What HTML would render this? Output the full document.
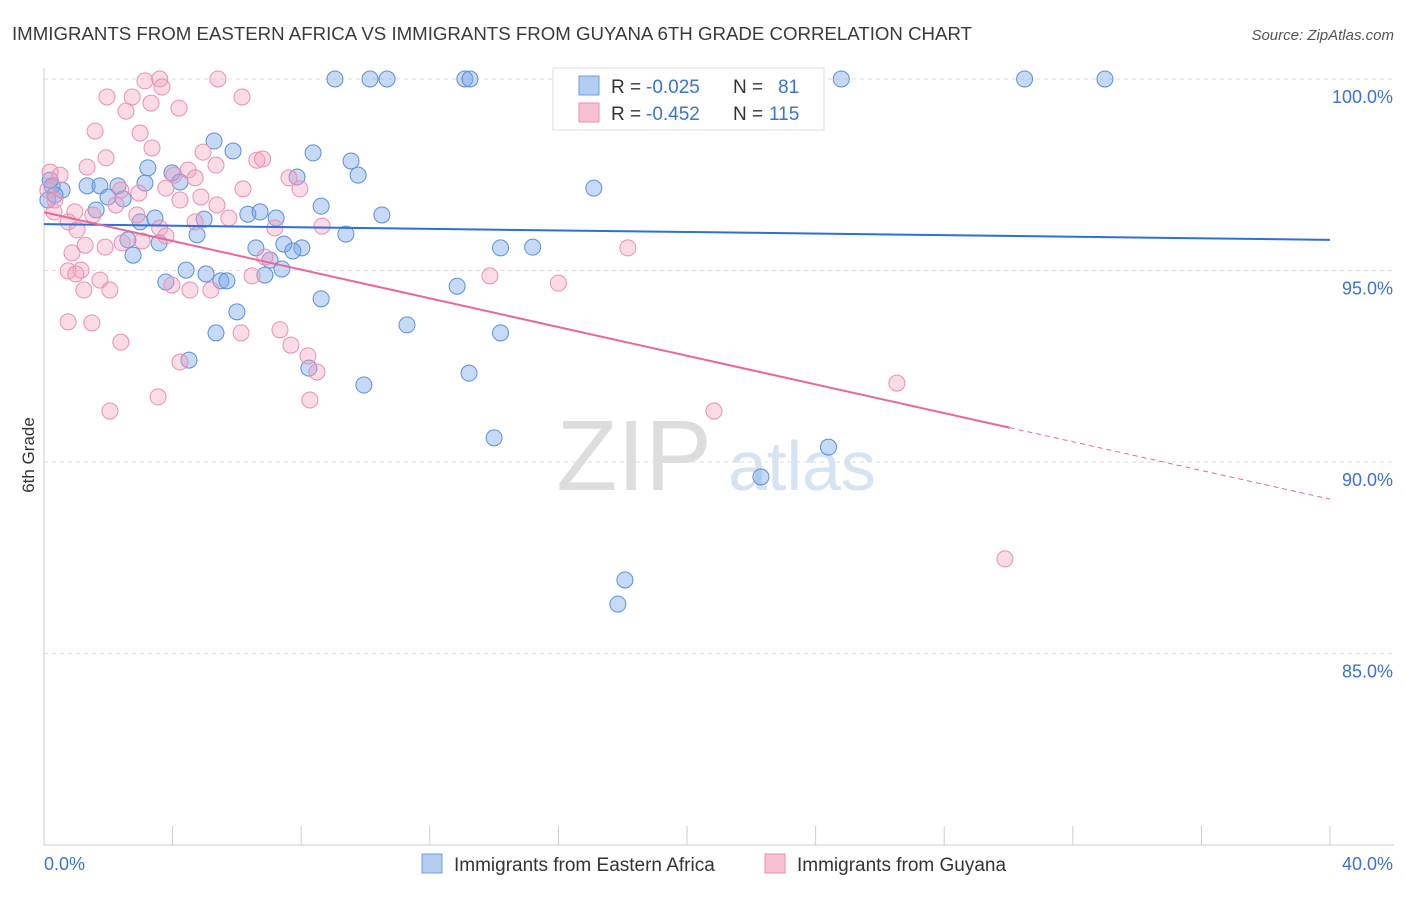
<!DOCTYPE html>
<html><head><meta charset="utf-8"><style>
body{margin:0;background:#fff;font-family:"Liberation Sans",sans-serif;}
svg text{font-family:"Liberation Sans",sans-serif;}
</style></head><body>
<svg id="chart" width="1406" height="892" xmlns="http://www.w3.org/2000/svg">
<text x="12" y="40" font-size="18.5" fill="#3a3a3a" textLength="960" lengthAdjust="spacingAndGlyphs">IMMIGRANTS FROM EASTERN AFRICA VS IMMIGRANTS FROM GUYANA 6TH GRADE CORRELATION CHART</text>
<text x="1394" y="40" font-size="15" fill="#555" text-anchor="end" font-style="italic">Source: ZipAtlas.com</text>
<text x="34" y="455" font-size="17" fill="#333" text-anchor="middle" transform="rotate(-90 34 455)">6th Grade</text>
<g>
<text x="634" y="490" font-size="100" fill="#ddd" text-anchor="middle" font-family="Liberation Serif">ZIP</text>
<text x="802" y="490" font-size="70" fill="#d5e3f3" text-anchor="middle">atlas</text>
</g>
<g id="grid"></g><g id="pts"></g><g id="lines"></g>
<g>
<rect x="553" y="68" width="271" height="62" fill="#fff" stroke="#ddd"/>
<rect x="579" y="76" width="20" height="19" fill="#b3cdf0" stroke="#6c9ee0"/>
<rect x="579" y="103" width="20" height="19" fill="#f8c1d2" stroke="#ec8fb0"/>
<text x="611" y="93" font-size="19" fill="#333">R =</text>
<text x="646" y="93" font-size="19" fill="#3b73d1">-0.025</text>
<text x="733" y="93" font-size="19" fill="#333">N =</text>
<text x="778" y="93" font-size="19" fill="#3b73d1">81</text>
<text x="611" y="120" font-size="19" fill="#333">R =</text>
<text x="646" y="120" font-size="19" fill="#3b73d1">-0.452</text>
<text x="733" y="120" font-size="19" fill="#333">N =</text>
<text x="769" y="120" font-size="19" fill="#3b73d1">115</text>
</g>
<g>
<rect x="422" y="854" width="20" height="19" fill="#b3cdf0" stroke="#6c9ee0"/>
<text x="454" y="871" font-size="19" fill="#333">Immigrants from Eastern Africa</text>
<rect x="765" y="854" width="20" height="19" fill="#f8c1d2" stroke="#ec8fb0"/>
<text x="797" y="871" font-size="19" fill="#333">Immigrants from Guyana</text>
</g>
</svg>
<script>
const yTicks=[100,95,90,85];
const xTickLabels=["0.0%","40.0%"];
const blueX=[9.05,10.14,10.67,13.09,13.25,16.6,23.3,24.8,30.5,33.0,5.29,5.88,8.37,9.55,9.77,3.23,3.98,4.23,3.14,7.87,17.1,1.34,1.74,2.30,0.56,0.25,1.99,1.62,2.46,8.62,10.51,6.34,6.72,7.22,4.98,3.45,2.99,9.39,4.76,2.61,3.58,6.59,7.46,8.02,7.74,14.2,15.2,2.77,7.03,7.4,4.42,5.04,6.87,3.79,5.5,5.69,12.85,8.62,6.0,11.29,5.35,14.2,4.51,8.24,9.95,13.22,14.0,24.4,22.3,18.07,17.85,0.19,0.12,0.34];
const blueY=[100,100,100,100,100,100,100,100,100,100,98.38,98.12,98.07,97.86,97.49,97.68,97.55,97.31,97.28,97.44,97.15,97.21,97.21,97.21,97.10,97.21,96.92,96.58,96.87,96.68,96.45,96.47,96.53,96.37,96.34,96.37,96.27,95.95,95.93,95.80,95.72,95.59,95.69,95.59,95.51,95.59,95.61,95.40,95.27,95.04,95.01,94.91,94.88,94.70,94.73,94.73,94.59,94.26,93.92,93.58,93.37,93.37,92.66,92.45,92.01,92.32,90.63,90.39,89.61,86.92,86.29,97.36,96.84,96.97];
const pinkX=[3.14,3.6,3.67,5.41,1.96,2.74,6.16,3.33,4.2,2.55,1.59,2.99,3.36,4.95,1.93,6.62,6.8,5.35,1.34,4.48,4.04,4.7,7.62,0.19,0.5,6.19,7.96,3.79,2.39,4.88,4.23,2.95,5.38,0.31,0.96,1.52,2.24,2.89,5.75,4.7,0.75,3.6,7.18,8.65,1.03,3.79,3.05,2.43,1.9,1.28,18.16,0.87,6.87,1.15,0.75,1.74,0.99,6.47,13.87,16.0,3.98,4.54,5.19,1.24,2.05,0.75,1.49,6.13,7.34,2.39,7.68,8.21,4.23,8.49,26.53,3.55,8.27,2.05,20.84,29.89,0.12,0.34];
const pinkY=[99.95,100,99.79,100,99.53,99.53,99.53,99.37,99.24,99.16,98.64,98.59,98.20,98.09,97.94,97.88,97.91,97.75,97.70,97.62,97.49,97.42,97.42,97.57,97.49,97.13,97.13,97.15,97.10,96.92,96.84,97.02,96.71,96.53,96.53,96.45,96.71,96.45,96.37,96.27,96.27,96.11,96.11,96.16,96.06,95.90,95.77,95.72,95.61,95.66,95.59,95.46,95.35,95.01,94.99,94.75,94.91,94.86,94.86,94.67,94.62,94.49,94.49,94.49,94.49,93.66,93.63,93.37,93.45,93.13,93.05,92.77,92.61,92.35,92.06,91.70,91.62,91.33,91.33,87.47,97.10,96.84];
const blueTrend=[96.21,95.80];
const pinkTrend=[96.52,89.03];
const pinkSolidEnd=30.04;
const NS="http://www.w3.org/2000/svg";
const xs=v=>44+v/40*1286;
const ys=v=>79+(100-v)/5*191.5;
function mk(tag,attrs,parent){const e=document.createElementNS(NS,tag);for(const k in attrs)e.setAttribute(k,attrs[k]);parent.appendChild(e);return e;}
const grid=document.getElementById('grid');
yTicks.forEach(t=>{
 const l=mk('line',{x1:44,x2:1394,y1:ys(t),y2:ys(t),stroke:'#ddd','stroke-dasharray':'4,4'},grid);
 
 
 const tx=mk('text',{x:1393,y:ys(t)+24,'font-size':18,fill:'#3b73d1','text-anchor':'end'},grid);
 tx.textContent=t.toFixed(1)+'%';
 
 
});
const ax=mk('line',{x1:44,x2:1394,y1:845,y2:845,stroke:'#ccc'},grid);


const ay=mk('line',{x1:44,x2:44,y1:68,y2:845,stroke:'#ccc'},grid);


for(let i=0;i<=10;i++){
 const tk=mk('line',{x1:xs(i*4),x2:xs(i*4),y1:826,y2:845,stroke:'#ccc'},grid);
 
 
}
[[0,'start',44],[1,'end',1393]].forEach(([i,a,x])=>{
 const tx=mk('text',{x:x,y:870,'font-size':18,fill:'#3b73d1','text-anchor':a},grid);
 tx.textContent=xTickLabels[i];
 
 
});
const pts=document.getElementById('pts');
blueX.forEach((v,i)=>{
 const c=mk('circle',{cx:xs(v),cy:ys(blueY[i]),r:8,fill:'rgba(120,165,230,0.42)',stroke:'#5b8fdb','stroke-width':1},pts);
 
 
});
pinkX.forEach((v,i)=>{
 const c=mk('circle',{cx:xs(v),cy:ys(pinkY[i]),r:8,fill:'rgba(245,160,190,0.38)',stroke:'#ea8fb0','stroke-width':1},pts);
 
 
});
const lines=document.getElementById('lines');
const bl=mk('line',{x1:xs(0),y1:ys(blueTrend[0]),x2:xs(40),y2:ys(blueTrend[1]),stroke:'#2f6fd6','stroke-width':2},lines);


const pAt=x=>pinkTrend[0]+(pinkTrend[1]-pinkTrend[0])*x/40;
const pl=mk('line',{x1:xs(0),y1:ys(pAt(0)),x2:xs(pinkSolidEnd),y2:ys(pAt(pinkSolidEnd)),stroke:'#e8689a','stroke-width':2},lines);


const pd=mk('line',{x1:xs(pinkSolidEnd),y1:ys(pAt(pinkSolidEnd)),x2:xs(40),y2:ys(pAt(40)),stroke:'#e8689a','stroke-width':1,'stroke-dasharray':'5,4'},lines);


</script>
</body></html>
